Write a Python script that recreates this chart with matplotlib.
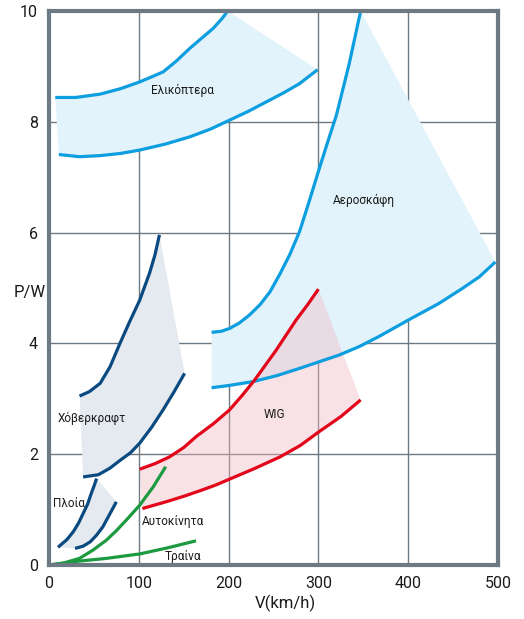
import numpy as np
import matplotlib.pyplot as plt

plt.rcParams['font.family'] = ['Roboto', 'DejaVu Sans']

# Ελικόπτερα
heli_up_x = [7, 30, 57, 80, 101, 127, 142, 157, 170, 183, 193, 199]
heli_up_y = [8.44, 8.44, 8.5, 8.6, 8.72, 8.9, 9.1, 9.33, 9.51, 9.69, 9.87, 10.0]
heli_lo_x = [11, 34, 57, 80, 101, 130, 157, 180, 201, 222, 242, 262, 279, 299]
heli_lo_y = [7.41, 7.37, 7.39, 7.43, 7.49, 7.6, 7.73, 7.87, 8.03, 8.19, 8.36, 8.53, 8.69, 8.94]

# Αεροσκάφη
air_up_x = [181, 192, 201, 212, 223, 235, 246, 257, 268, 279, 290, 301, 310, 320, 334, 347]
air_up_y = [4.2, 4.22, 4.27, 4.37, 4.51, 4.7, 4.93, 5.25, 5.6, 6.02, 6.58, 7.16, 7.62, 8.12, 9.03, 10.0]
air_lo_x = [181, 200, 227, 254, 279, 301, 323, 345, 368, 401, 434, 460, 479, 497]
air_lo_y = [3.2, 3.24, 3.31, 3.42, 3.55, 3.67, 3.79, 3.94, 4.13, 4.43, 4.72, 4.99, 5.2, 5.47]

# Χόβερκραφτ
hov_up_x = [34, 45, 57, 68, 79, 90, 101, 112, 118, 123]
hov_up_y = [3.05, 3.13, 3.28, 3.58, 4.0, 4.4, 4.78, 5.27, 5.6, 5.96]
hov_lo_x = [38, 55, 68, 80, 91, 101, 114, 127, 139, 151]
hov_lo_y = [1.59, 1.63, 1.75, 1.9, 2.03, 2.2, 2.48, 2.8, 3.12, 3.46]

# Πλοία
ship_l_x = [10, 20, 27, 33, 38, 43, 47, 50, 53]
ship_l_y = [0.32, 0.46, 0.6, 0.76, 0.93, 1.1, 1.29, 1.42, 1.56]
ship_r_x = [29, 38, 46, 53, 60, 67, 75]
ship_r_y = [0.3, 0.34, 0.42, 0.54, 0.69, 0.9, 1.14]

# WIG
wig_up_x = [101, 118, 134, 150, 164, 183, 201, 215, 229, 241, 253, 264, 275, 288, 300]
wig_up_y = [1.73, 1.83, 1.95, 2.12, 2.32, 2.55, 2.8, 3.06, 3.34, 3.61, 3.88, 4.15, 4.42, 4.7, 4.98]
wig_lo_x = [104, 130, 150, 168, 185, 201, 230, 257, 280, 301, 325, 347]
wig_lo_y = [1.02, 1.14, 1.24, 1.34, 1.44, 1.55, 1.75, 1.95, 2.16, 2.41, 2.68, 2.98]

# Αυτοκίνητα, Τραίνα
car_x = [0, 15, 34, 49, 64, 75, 86, 101, 116, 129]
car_y = [0, 0.03, 0.12, 0.27, 0.45, 0.62, 0.81, 1.08, 1.41, 1.75]
train_x = [0, 27, 64, 101, 132, 162]
train_y = [0, 0.06, 0.12, 0.2, 0.31, 0.43]

labels = ["Ελικόπτερα", "Αεροσκάφη", "Χόβερκραφτ", "Πλοία", "Αυτοκίνητα", "Τραίνα", "WIG"]
label_x = [149, 351, 48, 22, 138, 149, 251]
label_y = [8.57, 6.59, 2.65, 1.12, 0.78, 0.16, 2.71]

blue = '#0d9ee0'
navy = '#0b4a80'
red = '#e3061a'
green = '#1d9a40'
frame = '#6e7a83'

fig = plt.figure(figsize=(5.24, 6.19), dpi=100)
ax = fig.add_axes([0.0935, 0.0872, 0.857, 0.895])


def band(ax, ux, uy, lx, ly, fc, lc, alpha=1.0):
    px = list(ux) + list(lx)[::-1]
    py = list(uy) + list(ly)[::-1]
    ax.fill(px, py, color=fc, alpha=alpha, lw=0, zorder=1)
    for xs, ys in ((ux, uy), (lx, ly)):
        ax.plot(xs, ys, color=lc, lw=2.3, zorder=3,
                solid_capstyle='butt', solid_joinstyle='round')


band(ax, heli_up_x, heli_up_y, heli_lo_x, heli_lo_y, '#e2f3fc', blue)
band(ax, air_up_x, air_up_y, air_lo_x, air_lo_y, '#e2f3fc', blue)
band(ax, hov_up_x, hov_up_y, hov_lo_x, hov_lo_y, '#e4eaf0', navy)
band(ax, ship_l_x, ship_l_y, ship_r_x, ship_r_y, '#e4eaf0', navy)
band(ax, wig_up_x, wig_up_y, wig_lo_x, wig_lo_y, '#f2b8c0', red, alpha=0.4)
ax.plot(car_x, car_y, color=green, lw=2.3, zorder=3, solid_joinstyle='round')
ax.plot(train_x, train_y, color=green, lw=2.3, zorder=3, solid_joinstyle='round')

for t, x, y in zip(labels, label_x, label_y):
    ax.text(x, y, t, fontsize=8.5, ha='center', va='center', color='#1a1a1a', zorder=4)

ax.set_xlim(0, 500)
ax.set_ylim(0, 10)
ax.set_xticks([0, 100, 200, 300, 400, 500])
ax.set_yticks([0, 2, 4, 6, 8, 10])
ax.tick_params(length=0, labelsize=11.5, pad=8, colors='#1a1a1a')
ax.grid(True, color=frame, lw=1, zorder=0)
ax.set_axisbelow(True)
for s in ax.spines.values():
    s.set_color(frame)
    s.set_linewidth(3)
    s.set_zorder(5)

fig.text(0.544, 0.026, "V(km/h)", fontsize=12, ha='center', va='center', color='#1a1a1a')
fig.text(0.057, 0.528, "P/W", fontsize=12, ha='center', va='center', color='#1a1a1a')

fig.savefig("out.png", dpi=100)
